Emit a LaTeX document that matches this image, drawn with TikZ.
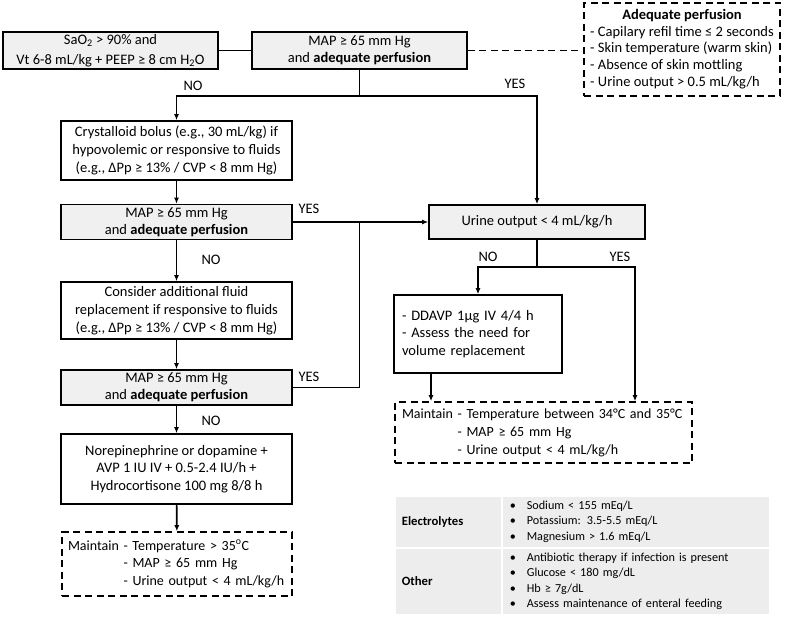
\documentclass[tikz,border=0pt]{standalone}
\usepackage{fontspec}
\setmainfont{Carlito}
\usetikzlibrary{arrows.meta}

\begin{document}
\begin{tikzpicture}[x=1pt, y=-1pt, line width=1.6pt, font=\fontsize{14.5}{18}\selectfont,
	box/.style={draw, rectangle, inner sep=0pt, align=center, minimum width=231pt},
	graybox/.style={box, fill=black!6},
	notebox/.style={box, dash pattern=on 7pt off 4.5pt},
	cell/.style={fill=black!7, anchor=north west, inner xsep=6pt, inner ysep=0pt, align=left, font=\fontsize{12.2}{15.3}\selectfont},
	flow/.style={-{Latex[length=6pt,width=5pt]}}]
	\useasboundingbox (0,0) rectangle (786,617);
	% left column
	\node[graybox, minimum width=215pt, minimum height=37pt, font=\fontsize{14.5}{20}\selectfont] (sao2) at (110.5,50.5) {SaO\textsubscript{2} > 90\% and\\Vt 6-8 mL/kg + PEEP ≥ 8 cm H\textsubscript{2}O};
	\node[graybox, minimum width=215pt, minimum height=37pt, font=\fontsize{14.5}{17}\selectfont] (map1) at (359.5,50.5) {MAP ≥ 65 mm Hg\\and \textbf{adequate perfusion}};
	\node[notebox, minimum width=196pt, minimum height=93pt, font=\fontsize{14.5}{16.7}\selectfont] (perf) at (682,49.5) {\begin{tabular}{@{}l@{}}\multicolumn{1}{@{}c@{}}{\textbf{Adequate perfusion}}\\- Capilary refil time ≤ 2 seconds\\- Skin temperature (warm skin)\\- Absence of skin mottling\\- Urine output > 0.5 mL/kg/h\end{tabular}};
	\node[box, minimum height=59pt] (cryst) at (176.5,150.5) {Crystalloid bolus (e.g., 30 mL/kg) if\\hypovolemic or responsive to fluids\\(e.g., ΔPp ≥ 13\% / CVP < 8 mm Hg)};
	\node[graybox, minimum height=35pt, font=\fontsize{14.5}{17}\selectfont] (map2) at (176.5,222) {MAP ≥ 65 mm Hg\\and \textbf{adequate perfusion}};
	\node[box, minimum height=57pt] (consider) at (176.5,310.5) {Consider additional fluid\\replacement if responsive to fluids\\(e.g., ΔPp ≥ 13\% / CVP < 8 mm Hg)};
	\node[graybox, minimum height=35pt, font=\fontsize{14.5}{17}\selectfont] (map3) at (176.5,387.5) {MAP ≥ 65 mm Hg\\and \textbf{adequate perfusion}};
	\node[box, minimum height=70pt, font=\fontsize{14.5}{17.5}\selectfont] (nore) at (176.5,469) {Norepinephrine or dopamine +\\AVP 1 IU IV + 0.5-2.4 IU/h +\\Hydrocortisone 100 mg 8/8 h};
	\node[notebox, minimum width=230pt, minimum height=64pt, align=left, text width=218pt, inner xsep=6pt, font=\fontsize{14}{17.5}\selectfont] (maint1) at (177,564) {\begin{tabular}{@{}l@{ }l@{}}Maintain & - Temperature > 35\textsuperscript{o}C\\ & - MAP ≥ 65 mm Hg\\ & - Urine output < 4 mL/kg/h\end{tabular}};
	% right column
	\node[graybox, minimum width=216pt, minimum height=34pt] (urine) at (537,222) {Urine output < 4 mL/kg/h};
	\node[box, minimum width=168pt, minimum height=78pt, align=left, text width=152pt, inner xsep=8pt, font=\fontsize{14.5}{17.5}\selectfont] (ddavp) at (478,334) {- DDAVP 1µg IV 4/4 h\\- Assess the need for\\volume replacement};
	\node[notebox, minimum width=297pt, minimum height=61pt, align=left, text width=283pt, inner xsep=7pt, font=\fontsize{14}{18}\selectfont] (maint2) at (543.5,432.5) {\begin{tabular}{@{}l@{ }l@{}}Maintain & - Temperature between 34°C and 35°C\\ & - MAP ≥ 65 mm Hg\\ & - Urine output < 4 mL/kg/h\end{tabular}};
	% table
	\node[cell, text width=93pt, minimum height=50pt, font=\fontsize{12.7}{15.3}\selectfont] (elecname) at (395,496) {\textbf{Electrolytes}};
	\node[cell, text width=252pt, inner xsep=7pt, minimum height=50pt] (eleclist) at (502,496) {\begin{tabular}{@{}p{17pt}@{}l@{}}\textbullet & Sodium < 155 mEq/L\\\textbullet & Potassium: 3.5-5.5 mEq/L\\\textbullet & Magnesium > 1.6 mEq/L\end{tabular}};
	\node[cell, text width=93pt, minimum height=65pt, font=\fontsize{12.7}{15.3}\selectfont] (othername) at (395,548) {\textbf{Other}};
	\node[cell, text width=252pt, inner xsep=7pt, minimum height=65pt] (otherlist) at (502,548) {\begin{tabular}{@{}p{17pt}@{}l@{}}\textbullet & Antibiotic therapy if infection is present\\\textbullet & Glucose < 180 mg/dL\\\textbullet & Hb ≥ 7g/dL\\\textbullet & Assess maintenance of enteral feeding\end{tabular}};
	% connectors
	\coordinate (split1) at (359.5,96);
	\coordinate (join) at (359.5,222);
	\coordinate (split2) at (537,267);
	\coordinate (yesdrop) at (635,267);
	\coordinate (ddx) at (431,0);
	\draw (sao2) -- (map1);
	\draw[dash pattern=on 7pt off 4.5pt] (map1.east) -- (map1.east -| perf.west);
	\draw (map1.south) -- (split1);
	\draw[flow] (split1) -| (cryst.north);
	\draw[flow] (split1) -| (urine.north);
	\draw[flow] (cryst) -- (map2);
	\draw[flow] (map2) -- (consider);
	\draw[flow] (map2.east) -- (urine.west);
	\draw[flow] (consider) -- (map3);
	\draw (map3.east) -| (join);
	\draw[flow] (map3) -- (nore);
	\draw[flow] (nore) -- (maint1);
	\draw (urine.south) -- (split2);
	\draw[flow] (split2) -| (ddavp.north);
	\draw[flow] (split2) -- (yesdrop) -- (yesdrop |- maint2.north);
	\draw[flow] (ddavp.south -| ddx) -- (maint2.north -| ddx);
	% labels
	\node (no1) at (193,86) {NO};
	\node (yes1) at (515,84) {YES};
	\node (yes2) at (309,209) {YES};
	\node (no2) at (211,260) {NO};
	\node (yes3) at (309,377) {YES};
	\node (no3) at (211,421) {NO};
	\node (no4) at (488,257) {NO};
	\node (yes4) at (620,257) {YES};
\end{tikzpicture}
\end{document}
